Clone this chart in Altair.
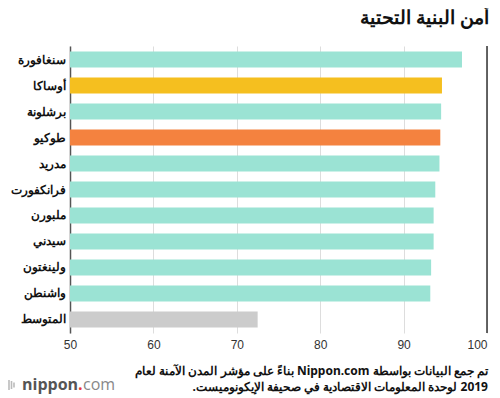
import altair as alt
import pandas as pd

cities = ["سنغافورة", "أوساكا", "برشلونة", "طوكيو", "مدريد", "فرانكفورت",
          "ملبورن", "سيدني", "ولينغتون", "واشنطن", "المتوسط"]
values = [97.0, 94.6, 94.5, 94.4, 94.3, 93.8, 93.6, 93.6, 93.3, 93.2, 72.5]
groups = ["other", "osaka", "other", "tokyo", "other", "other",
          "other", "other", "other", "other", "avg"]
group_names = ["other", "osaka", "tokyo", "avg"]
group_colors = ["#9be3d4", "#f5bf1f", "#f4823f", "#cccccc"]
x_ticks = [50, 60, 70, 80, 90, 100]

title = "أمن البنية التحتية"
note1 = "تم جمع البيانات بواسطة Nippon.com بناءً على مؤشر المدن الآمنة لعام"
note2 = "2019 لوحدة المعلومات الاقتصادية في صحيفة الإيكونوميست."

RLE, PDF = "\u202B", "\u202C"

df = pd.DataFrame({"city": cities, "value": values, "group": groups})

FONT = "Noto Sans"
W, H = 417, 287

base = alt.Chart(df)

bars = base.mark_bar().encode(
    x=alt.X("value:Q", scale=alt.Scale(domain=[50, 100], nice=False, clamp=True),
            axis=alt.Axis(values=x_ticks, grid=True, gridColor="#dddddd", gridWidth=1,
                          domain=False, ticks=False, labelFontSize=12,
                          labelColor="#333333", labelPadding=6, title=None,
                          labelFlush=False, labelFont="Liberation Sans",
                          labelAlign=alt.ExprRef("datum.value == 100 ? 'right' : 'center'"))),
    y=alt.Y("city:N", sort=cities,
            scale=alt.Scale(paddingInner=0.38, paddingOuter=0.21),
            axis=alt.Axis(domain=True, domainColor="#555555", domainWidth=1.5,
                          ticks=False, labelFontSize=12, labelFontWeight="bold",
                          labelColor="#111111", labelPadding=5, title=None,
                          labelFont=FONT, labelLimit=70)),
    color=alt.Color("group:N", scale=alt.Scale(domain=group_names, range=group_colors),
                    legend=None),
)

rule100 = alt.Chart(pd.DataFrame({"v": [100]})).mark_rule(
    color="#333333", strokeWidth=1.5).encode(x=alt.X("v:Q"))

def txt(text, x, y, size, weight="normal", color="#111111", align="right", font=FONT):
    return alt.Chart(pd.DataFrame({"t": [text]})).mark_text(
        align=align, baseline="alphabetic", fontSize=size, fontWeight=weight,
        color=color, font=font).encode(text="t:N", x=alt.value(x), y=alt.value(y))

n1 = txt(RLE + note1 + PDF, 418, 329, 12, "bold")
n2 = txt(RLE + note2 + PDF, 418, 345, 12, "bold")

logo1 = txt("nippon", -48, 344, 16, "bold", "#555555", "left", "Open Sans")
logo2 = txt(".", 8, 344, 16, "bold", "#e8383d", "left", "Open Sans")
logo3 = txt("com", 13, 344, 16, "normal", "#888888", "left", "Open Sans")

icon_x = [-66, -63.5, -61, -58.5, -56]
icon_h = [2.5, 4, 5, 4, 2.5]
icons = []
for xx, hh in zip(icon_x, icon_h):
    icons.append(alt.Chart(pd.DataFrame({"a": [0]})).mark_rule(
        color="#bbbbbb", strokeWidth=1.6).encode(
        x=alt.value(xx), y=alt.value(339 - hh), y2=alt.value(339 + hh)))

chart = alt.layer(bars, rule100, n1, n2, logo1, logo2, logo3, *icons).properties(
    width=W, height=H,
    title=alt.TitleParams(title, anchor="end", fontSize=19, fontWeight="bold",
                          color="#111111", offset=17, dx=1, font=FONT),
    padding={"left": 62, "top": 38, "right": 5, "bottom": 64},
    autosize=alt.AutoSizeParams(type="none"),
).configure_view(stroke=None)

chart.save("out.html", embed_options={"renderer": "svg", "actions": False})
